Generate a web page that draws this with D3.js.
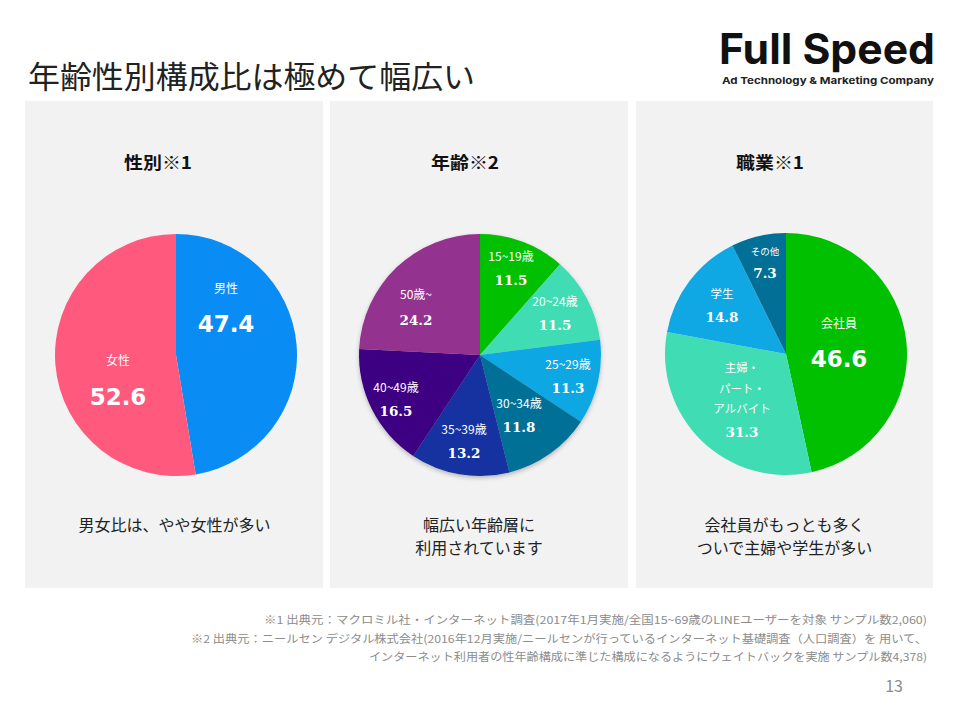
<!DOCTYPE html>
<html><head><meta charset="utf-8">
<script src="https://cdn.jsdelivr.net/npm/d3@7"></script>
<style>html,body{margin:0;padding:0;background:#fff}svg{display:block}</style>
</head><body>
<svg id="c" width="960" height="720"></svg>
<script>
const genderOrder=["男性","女性"], genderOrderVals=[47.4,52.6];
const genderColors=["#0a8cf5","#ff5a7d"];
const ageCats=["15~19歳","20~24歳","25~29歳","30~34歳","35~39歳","40~49歳","50歳~"];
const ageVals=[11.5,11.5,11.3,11.8,13.2,16.5,24.2];
const ageColors=["#00c000","#40dcb4","#10a8e4","#026f96","#1330a0","#3c0082","#93318f"];
const jobCats=["会社員","主婦・\nパート・\nアルバイト","学生","その他"];
const jobVals=[46.6,31.3,14.8,7.3];
const jobColors=["#00c000","#40dcb4","#10a8e4","#026f96"];
const panelTitles=["性別※1","年齢※2","職業※1"];
const panelNotes=[["男女比は、やや女性が多い"],["幅広い年齢層に","利用されています"],["会社員がもっとも多く","ついで主婦や学生が多い"]];
const footnotes=["※1 出典元：マクロミル社・インターネット調査(2017年1月実施/全国15~69歳のLINEユーザーを対象  サンプル数2,060)",
"※2 出典元：ニールセン デジタル株式会社(2016年12月実施/ニールセンが行っているインターネット基礎調査（人口調査）を  用いて、",
"インターネット利用者の性年齢構成に準じた構成になるようにウェイトバックを実施 サンプル数4,378)"];
const FONT='"Noto Sans CJK JP","Noto Sans",sans-serif';
const svg=d3.select("#c");
const defs=svg.append("defs");
const f=defs.append("filter").attr("id","sh").attr("x","-10%").attr("y","-10%").attr("width","120%").attr("height","120%");
f.append("feDropShadow").attr("dx",0).attr("dy",2).attr("stdDeviation",2).attr("flood-color","#000").attr("flood-opacity",0.25);
const T=(x,y,s,size,o={})=>svg.append("text").attr("x",x).attr("y",y).text(s)
  .attr("font-family",o.font||FONT).attr("font-size",size).attr("font-weight",o.w||400)
  .attr("fill",o.fill||"#1a1a1a").attr("text-anchor",o.a||"start").attr("textLength",o.len||null).attr("lengthAdjust",o.len?"spacingAndGlyphs":null);
T(28,88,"年齢性別構成比は極めて幅広い",31,{fill:"#222",len:447});
T(719,64,"Full Speed",42,{font:'"Inter","Liberation Sans",sans-serif',w:700,fill:"#111",len:216});
T(722,84,"Ad Technology & Marketing Company",9.5,{font:'"Inter","Liberation Sans",sans-serif',w:700,fill:"#222",len:212});
const panels=[[25,298],[330,298],[636,297]];
panels.forEach(([x,w])=>{
  svg.append("rect").attr("x",x).attr("y",101).attr("width",w).attr("height",487).attr("fill","#f2f2f2");
});
const cxs=[158,465,770];
panelTitles.forEach((t,i)=>T(cxs[i],169,t,17,{w:700,a:"middle",fill:"#111",len:68}));
const noteX=[174.5,479,784.5];
panelNotes.forEach((ls,i)=>ls.forEach((l,j)=>T(noteX[i],531+j*23,l,16,{a:"middle",fill:"#222"})));
function drawPie(cx,cy,r,cats,vals,colors,labels,shadow){
  const g=svg.append("g").attr("transform",`translate(${cx},${cy})`);
  if(shadow) g.attr("filter","url(#sh)");
  const arcs=d3.pie().sort(null)(vals);
  const arc=d3.arc().innerRadius(0).outerRadius(r);
  g.selectAll("path").data(arcs).join("path").attr("d",arc).attr("fill",(d,i)=>colors[i]);
  labels.forEach((l,i)=>{
    const lines=cats[i].split("\n");
    lines.forEach((s,j)=>T(l.x,l.y+j*(l.lh||0),s,l.cs,{a:"middle",fill:"#fff"}));
    T(l.x,l.vy,vals[i].toFixed(1),l.vs,{a:"middle",fill:"#fff",w:700,font:l.vs>18?'"DejaVu Sans",sans-serif':'"DejaVu Serif",serif'});
  });
}
drawPie(176,355,121,genderOrder,genderOrderVals,genderColors,[
  {x:226,y:293,cs:12,vy:332,vs:23},
  {x:118,y:365,cs:12,vy:405,vs:23}
],false);
drawPie(480,355,121,ageCats,ageVals,ageColors,[
  {x:511,y:261,cs:12,vy:285,vs:13.5},
  {x:555,y:306,cs:12,vy:330,vs:13.5},
  {x:568,y:369,cs:12,vy:393,vs:13.5},
  {x:519,y:408,cs:12,vy:432,vs:13.5},
  {x:464,y:434,cs:12,vy:458,vs:13.5},
  {x:396,y:392,cs:12,vy:416,vs:13.5},
  {x:416,y:299,cs:12,vy:325,vs:13.5}
],true);
drawPie(786,354,121,jobCats,jobVals,jobColors,[
  {x:839,y:328,cs:12,vy:367,vs:23},
  {x:742,y:372,cs:11.5,lh:20.5,vy:437,vs:13.5},
  {x:722,y:298,cs:11.5,vy:322,vs:13.5},
  {x:765,y:255,cs:9.5,vy:278,vs:13.5}
],false);
const fr=927;
T(fr,624,footnotes[0],11,{a:"end",fill:"#8c8c8c",len:663});
T(fr,643,footnotes[1],11,{a:"end",fill:"#8c8c8c",len:736});
T(fr,661,footnotes[2],11,{a:"end",fill:"#8c8c8c",len:558});
T(903,692,"13",16,{a:"end",fill:"#8c8c8c"});
</script></body></html>
